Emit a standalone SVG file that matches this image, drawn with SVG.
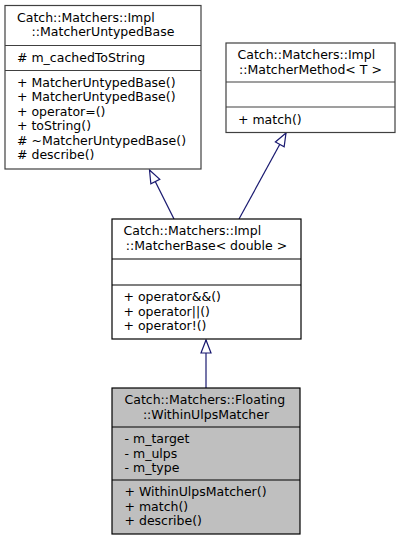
<svg xmlns="http://www.w3.org/2000/svg" width="400" height="544" viewBox="0 0 400 544">
<style>
text{font-family:"DejaVu Sans",sans-serif;font-size:12.5px;fill:#000}
.c{text-anchor:middle}
.box{fill:#fff;stroke:#404040;stroke-width:1.2}
.boxd{fill:#fff;stroke:#000;stroke-width:1.2}
.cur{fill:#bfbfbf;stroke:#000;stroke-width:1.2}
.sep{stroke:#404040;stroke-width:1.2}
.sepd{stroke:#000;stroke-width:1.2}
.e{stroke:#191970;stroke-width:1.2;fill:none;marker-end:url(#ah)}
</style>
<defs>
<marker id="ah" markerUnits="userSpaceOnUse" markerWidth="20" markerHeight="20" refX="0" refY="0" orient="auto" overflow="visible">
<path d="M0,0 L-13,-5 L-13,5 Z" fill="#fff" stroke="#191970" stroke-width="1.2"/>
</marker>
</defs>
<g id="edges">
<path class="e" d="M174,219 L149.5,170"/>
<path class="e" d="M239,219 L286,133"/>
<path class="e" d="M206,388 L206,340"/>
</g>
<g id="MatcherUntypedBase">
<rect class="box" x="5" y="5.5" width="196" height="163.5"/>
<line class="sep" x1="5" y1="45.5" x2="201" y2="45.5"/>
<line class="sep" x1="5" y1="70.5" x2="201" y2="70.5"/>
<text x="17" y="21.5">Catch::Matchers::Impl</text>
<text class="c" x="103" y="36">::MatcherUntypedBase</text>
<text x="17" y="62">#  m_cachedToString</text>
<text x="17" y="86.5">+ MatcherUntypedBase()</text>
<text x="17" y="101">+ MatcherUntypedBase()</text>
<text x="17" y="115.5">+ operator=()</text>
<text x="17" y="130">+ toString()</text>
<text x="17" y="144.5">#  ~MatcherUntypedBase()</text>
<text x="17" y="159">#  describe()</text>
</g>
<g id="MatcherMethod">
<rect class="box" x="226" y="43" width="169" height="89.5"/>
<line class="sep" x1="226" y1="82" x2="395" y2="82"/>
<line class="sep" x1="226" y1="107" x2="395" y2="107"/>
<text x="237.5" y="59">Catch::Matchers::Impl</text>
<text class="c" x="310.5" y="73.5">::MatcherMethod&lt; T &gt;</text>
<text x="238" y="123.5">+ match()</text>
</g>
<g id="MatcherBase">
<rect class="boxd" x="112" y="219" width="189" height="120"/>
<line class="sepd" x1="112" y1="259" x2="301" y2="259"/>
<line class="sepd" x1="112" y1="285" x2="301" y2="285"/>
<text x="123.5" y="235">Catch::Matchers::Impl</text>
<text class="c" x="206.5" y="249.5">::MatcherBase&lt; double &gt;</text>
<text x="123.5" y="301">+ operator&amp;&amp;()</text>
<text x="123.5" y="315.5">+ operator||()</text>
<text x="123.5" y="330">+ operator!()</text>
</g>
<g id="WithinUlpsMatcher">
<rect class="cur" x="112" y="388" width="188" height="146"/>
<line class="sepd" x1="112" y1="427" x2="300" y2="427"/>
<line class="sepd" x1="112" y1="480" x2="300" y2="480"/>
<text x="124.5" y="404">Catch::Matchers::Floating</text>
<text class="c" x="206" y="418.5">::WithinUlpsMatcher</text>
<text x="124.5" y="443">- m_target</text>
<text x="124.5" y="457.5">- m_ulps</text>
<text x="124.5" y="472">- m_type</text>
<text x="124.5" y="496">+ WithinUlpsMatcher()</text>
<text x="124.5" y="510.5">+ match()</text>
<text x="124.5" y="525">+ describe()</text>
</g>
</svg>
